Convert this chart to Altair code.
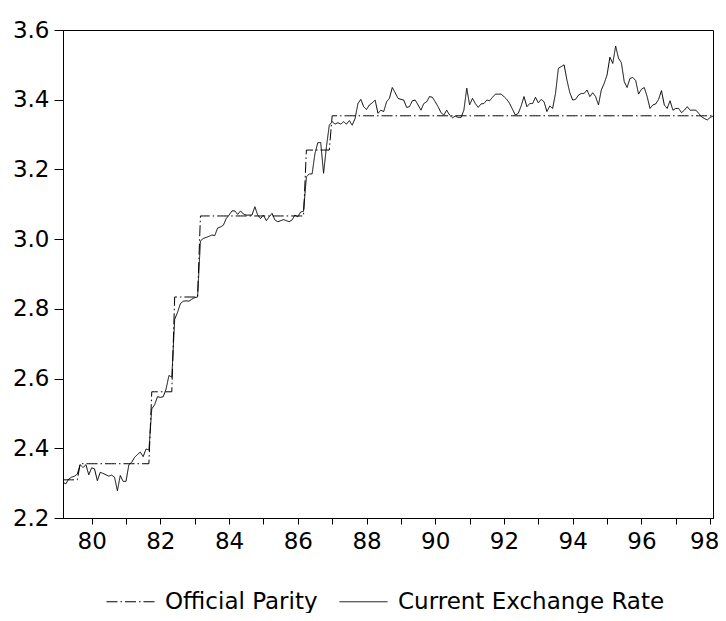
import altair as alt
import pandas as pd

# Monthly data, first observation 1979M3
start_year = 79
start_month = 3

series_names = ["Official Parity", "Current Exchange Rate"]

# FRF/DEM market rate, monthly
current_rate = [
    2.302, 2.298, 2.312, 2.317, 2.320, 2.326, 2.353, 2.345, 2.353, 2.324,
    2.344, 2.341, 2.307, 2.331, 2.328, 2.324, 2.320, 2.323, 2.317, 2.278,
    2.322, 2.305, 2.305, 2.353, 2.360, 2.374, 2.382, 2.389, 2.376, 2.398,
    2.395, 2.513, 2.525, 2.548, 2.546, 2.548, 2.570, 2.609, 2.604, 2.770,
    2.790, 2.815, 2.822, 2.823, 2.822, 2.828, 2.832, 2.834, 2.995, 3.002,
    3.005, 3.008, 3.012, 3.010, 3.032, 3.035, 3.040, 3.059, 3.069, 3.081,
    3.081, 3.071, 3.081, 3.072, 3.069, 3.069, 3.069, 3.093, 3.069, 3.059,
    3.069, 3.053, 3.064, 3.074, 3.055, 3.050, 3.053, 3.056, 3.053, 3.050,
    3.055, 3.069, 3.064, 3.078, 3.080, 3.179, 3.187, 3.187, 3.246, 3.277,
    3.277, 3.189, 3.265, 3.327, 3.337, 3.330, 3.334, 3.330, 3.337, 3.330,
    3.340, 3.327, 3.346, 3.389, 3.401, 3.380, 3.372, 3.385, 3.391, 3.399,
    3.361, 3.370, 3.366, 3.394, 3.404, 3.435, 3.420, 3.404, 3.401, 3.399,
    3.378, 3.380, 3.397, 3.399, 3.385, 3.370, 3.389, 3.394, 3.409, 3.407,
    3.394, 3.380, 3.363, 3.356, 3.370, 3.356, 3.348, 3.353, 3.349, 3.349,
    3.370, 3.433, 3.385, 3.404, 3.389, 3.378, 3.388, 3.389, 3.399, 3.397,
    3.407, 3.416, 3.416, 3.416, 3.409, 3.401, 3.389, 3.372, 3.356, 3.361,
    3.382, 3.409, 3.380, 3.389, 3.389, 3.407, 3.391, 3.401, 3.394, 3.366,
    3.382, 3.375, 3.418, 3.490, 3.495, 3.500, 3.456, 3.420, 3.399, 3.401,
    3.413, 3.418, 3.418, 3.428, 3.409, 3.420, 3.409, 3.385, 3.428, 3.447,
    3.471, 3.522, 3.504, 3.554, 3.519, 3.506, 3.452, 3.435, 3.461, 3.464,
    3.455, 3.416, 3.430, 3.435, 3.409, 3.375, 3.385, 3.388, 3.401, 3.426,
    3.385, 3.375, 3.397, 3.370, 3.375, 3.375, 3.363, 3.370, 3.380, 3.370,
    3.370, 3.370, 3.361, 3.351, 3.346, 3.342, 3.349, 3.353,
]

# Official central rates and the number of months each was in force
parity_rates = [2.3095, 2.3557, 2.5621, 2.8340, 3.0665, 3.2556, 3.3539]
parity_months = [6, 25, 8, 9, 37, 9, 134]

official_parity = []
for rate, n in zip(parity_rates, parity_months):
    official_parity += [rate] * n

x_ticks = list(range(80, 99))
y_ticks = [2.2, 2.4, 2.6, 2.8, 3.0, 3.2, 3.4, 3.6]

t0 = start_year + (start_month - 1) / 12
rows = []
for i, v in enumerate(official_parity):
    rows.append({"t": t0 + i / 12, "value": v, "series": series_names[0]})
for i, v in enumerate(current_rate):
    rows.append({"t": t0 + i / 12, "value": v, "series": series_names[1]})
df = pd.DataFrame(rows)

x_min = t0
x_max = t0 + (len(current_rate) - 1) / 12

FONT = "DejaVu Sans"

chart = alt.Chart(df).mark_line(color="black", strokeWidth=1).encode(
    x=alt.X("t:Q",
            scale=alt.Scale(domain=[x_min, x_max], nice=False, zero=False),
            axis=alt.Axis(values=x_ticks, title=None, grid=False,
                          labelExpr="datum.value % 2 == 0 ? datum.label : ''",
                          labelOffset={"condition": {"test": "datum.value == 98", "value": -6}, "value": 0},
                          tickSize=6, labelPadding=6, labelFontSize=23,
                          labelFont=FONT, labelColor="black",
                          domainColor="black", tickColor="black",
                          labelFlush=False, labelOverlap=False)),
    y=alt.Y("value:Q",
            scale=alt.Scale(domain=[2.2, 3.6], nice=False, zero=False),
            axis=alt.Axis(values=y_ticks, format=".1f", title=None, grid=False,
                          tickSize=9, labelPadding=5, labelFontSize=23,
                          labelFont=FONT, labelColor="black",
                          domainColor="black", tickColor="black",
                          labelFlush=False, labelOverlap=False)),
    strokeDash=alt.StrokeDash("series:N",
        scale=alt.Scale(domain=series_names, range=[[11, 3, 1.5, 3], [1, 0]]),
        legend=alt.Legend(title=None, orient="none", direction="horizontal",
                          legendX=43, legendY=547,
                          labelFontSize=23, labelFont=FONT, labelColor="black",
                          labelLimit=500,
                          symbolType="stroke", symbolSize=2304,
                          symbolStrokeWidth=1, symbolStrokeColor="black",
                          labelOffset=10, columnPadding=19)),
    detail="series:N",
).properties(
    width=650,
    height=488,
    autosize=alt.AutoSizeParams(type="none"),
    padding={"left": 55, "top": 22, "right": 5, "bottom": 95},
).configure_view(
    stroke="black", strokeWidth=1
)

chart.save("out.html", embed_options={"renderer": "svg", "actions": False})
